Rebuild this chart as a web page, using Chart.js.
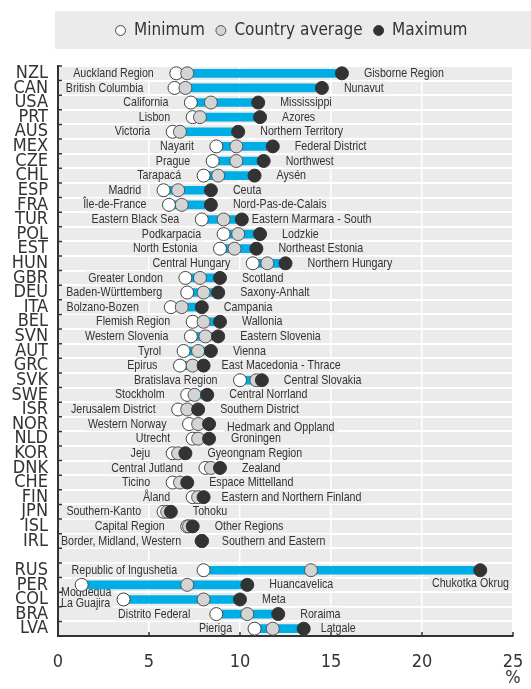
<!DOCTYPE html>
<html>
<head>
<meta charset="utf-8">
<script src="https://cdn.jsdelivr.net/npm/chart.js@4.4.1/dist/chart.umd.min.js"></script>
<style>
  html, body { margin: 0; padding: 0; background: #fff; }
  #wrap { width: 531px; height: 689px; position: relative; }
</style>
</head>
<body>
<div id="wrap"><canvas id="chart"></canvas></div>
<script>
// --- data -------------------------------------------------------------
const countries = ['NZL','CAN','USA','PRT','AUS','MEX','CZE','CHL','ESP','FRA',
  'TUR','POL','EST','HUN','GBR','DEU','ITA','BEL','SVN','AUT',
  'GRC','SVK','SWE','ISR','NOR','NLD','KOR','DNK','CHE','FIN',
  'JPN','ISL','IRL','','RUS','PER','COL','BRA','LVA'];

const minValues = [6.5, 6.4, 7.3, 7.4, 6.3, 8.7, 8.5, 8.0, 5.8, 6.1,
  7.9, 9.1, 8.9, 10.7, 7.0, 7.1, 6.2, 7.4, 7.3, 6.9,
  6.7, 10.0, 7.1, 6.6, 7.2, 7.4, 6.3, 8.1, 6.3, 7.4,
  5.8, 7.1, 7.9, null, 8.0, 1.3, 3.6, 8.7, 10.8];

const avgValues = [7.1, 7.0, 8.4, 7.8, 6.7, 9.8, 9.8, 8.8, 6.6, 6.8,
  9.1, 9.9, 9.7, 11.5, 7.8, 8.0, 6.8, 8.0, 8.1, 7.7,
  7.4, 10.9, 7.5, 7.1, 7.7, 7.7, 6.6, 8.4, 6.7, 7.7,
  6.0, 7.2, 7.9, null, 13.9, 7.1, 8.0, 10.4, 11.8];

const maxValues = [15.6, 14.5, 11.0, 11.1, 9.9, 11.8, 11.3, 10.8, 8.4, 8.4,
  10.1, 11.1, 10.9, 12.5, 8.9, 8.8, 7.9, 8.9, 8.8, 8.4,
  8.0, 11.2, 8.2, 7.7, 8.3, 8.3, 7.0, 8.9, 7.1, 8.0,
  6.2, 7.4, 7.9, null, 23.2, 10.4, 10.0, 12.1, 13.5];

const minRegions = ['Auckland Region','British Columbia','California','Lisbon','Victoria',
  'Nayarit','Prague','Tarapacá','Madrid','Île-de-France',
  'Eastern Black Sea','Podkarpacia','North Estonia','Central Hungary','Greater London',
  'Baden-Württemberg','Bolzano-Bozen','Flemish Region','Western Slovenia','Tyrol',
  'Epirus','Bratislava Region','Stockholm','Jerusalem District','Western Norway',
  'Utrecht','Jeju','Central Jutland','Ticino','Åland',
  'Southern-Kanto','Capital Region','Border, Midland, Western','',
  'Republic of Ingushetia','Moquegua','La Guajira','Distrito Federal','Pieriga'];

const maxRegions = ['Gisborne Region','Nunavut','Mississippi','Azores','Northern Territory',
  'Federal District','Northwest','Aysén','Ceuta','Nord-Pas-de-Calais',
  'Eastern Marmara - South','Lodzkie','Northeast Estonia','Northern Hungary','Scotland',
  'Saxony-Anhalt','Campania','Wallonia','Eastern Slovenia','Vienna',
  'East Macedonia - Thrace','Central Slovakia','Central Norrland','Southern District','Hedmark and Oppland',
  'Groningen','Gyeongnam Region','Zealand','Espace Mittelland','Eastern and Northern Finland',
  'Tohoku','Other Regions','Southern and Eastern','',
  'Chukotka Okrug','Huancavelica','Meta','Roraima','Latgale'];

const xTicks = [0, 5, 10, 15, 20, 25];
const xUnit = '%';

// label placement tweaks (pixels), where the original labels were pushed around
const labelTweaks = {
  CAN: { minGap: 31 }, DEU: { minGap: 25 }, ITA: { minGap: 32 }, BRA: { minGap: 26 },
  TUR: { maxGap: 10 }, GRC: { maxGap: 18 }, NOR: { maxGap: 18, maxDy: 3 },
  FIN: { maxGap: 18 }, IRL: { maxGap: 20 }, LVA: { maxGap: 17 },
  RUS: { minGap: 26.5, maxRight: true, maxDy: 13.6 },
  PER: { minLeft: true, minDy: 7.5 }, COL: { minLeft: true, minDy: 3.5 }
};

// --- style ------------------------------------------------------------
const FONT = '"DejaVu Sans Condensed", "DejaVu Sans", sans-serif';
const LABEL_FONT = '13px "Liberation Sans", Arial, sans-serif';
const NARROW = 0.82;   // squeeze Liberation Sans to an Arial-Narrow look
const INK = '#333333';
const PANEL = '#ebebeb';

const rangeData = countries.map((c, i) => minValues[i] == null ? null : [minValues[i], maxValues[i]]);

function drawLabel(ctx, text, x, y, w) {
  ctx.fillStyle = PANEL;
  ctx.fillRect(x - 3, y - 6.5, w + 6, 13);
  ctx.fillStyle = INK;
  ctx.save();
  ctx.translate(x, y);
  ctx.scale(NARROW, 1);
  ctx.fillText(text, 0, 0);
  ctx.restore();
}

const panelPlugin = {
  id: 'panelPlugin',
  beforeLayout(chart) {
    // extra gap between legend band and plot
    const lg = chart.legend;
    if (lg && !lg._gapPatched) {
      const fit = lg.fit;
      lg.fit = function () { fit.call(this); this.height += 17; };
      lg._gapPatched = true;
    }
  },
  afterLayout(chart) {
    const lg = chart.legend;
    lg.left = 55;
    lg.right = 528;
    lg.width = lg.right - lg.left;
  },
  beforeDraw(chart) {
    const { ctx, chartArea: a, legend } = chart;
    ctx.save();
    ctx.fillStyle = PANEL;
    ctx.fillRect(a.left, a.top, a.right - a.left, a.bottom - a.top);
    ctx.fillRect(55, legend.top, chart.width - 55, legend.height - 17);
    ctx.restore();
  }
};

const labelPlugin = {
  id: 'labelPlugin',
  beforeDatasetsDraw(chart) {
    const { ctx, chartArea: a } = chart;
    const minMeta = chart.getDatasetMeta(1);
    const maxMeta = chart.getDatasetMeta(3);
    ctx.save();
    ctx.beginPath();
    ctx.rect(a.left + 1.5, a.top, a.right - a.left - 1.5, a.bottom - a.top - 1);
    ctx.clip();
    ctx.font = LABEL_FONT;
    ctx.textBaseline = 'middle';
    ctx.textAlign = 'left';
    countries.forEach((code, i) => {
      if (minValues[i] == null) return;
      const t = labelTweaks[code] || {};
      const pMin = minMeta.data[i];
      const pMax = maxMeta.data[i];

      let w = ctx.measureText(minRegions[i]).width * NARROW;
      let x;
      if (t.minLeft) x = a.left + 3;
      else {
        x = pMin.x - (t.minGap || 22.5) - w;
        if (x < a.left + 3) x = a.left + 3;
      }
      drawLabel(ctx, minRegions[i], x, pMin.y + (t.minDy || 0), w);

      w = ctx.measureText(maxRegions[i]).width * NARROW;
      if (t.maxRight) x = a.right - 4 - w;
      else x = pMax.x + (t.maxGap || 22);
      drawLabel(ctx, maxRegions[i], x, pMax.y + (t.maxDy || 0), w);
    });
    ctx.restore();
  },
  afterDraw(chart) {
    const { ctx, chartArea: a, scales } = chart;
    const ys = scales.y, xs = scales.x;
    const step = ys.getPixelForValue(1) - ys.getPixelForValue(0);
    ctx.save();
    ctx.strokeStyle = INK;
    ctx.lineWidth = 1.5;
    ctx.beginPath();
    for (let i = 0; i < countries.length; i++) {
      const yy = ys.getPixelForValue(i) - step / 2;
      ctx.moveTo(a.left, yy);
      ctx.lineTo(a.left + 4, yy);
    }
    xs.ticks.forEach(t => {
      const xx = xs.getPixelForValue(t.value);
      ctx.moveTo(xx, a.bottom);
      ctx.lineTo(xx, a.bottom - 4);
    });
    ctx.stroke();
    ctx.restore();
  }
};

const pointDefaults = {
  type: 'line', indexAxis: 'y', showLine: false,
  pointRadius: 6.5, pointHoverRadius: 6.5, borderWidth: 1, pointStyle: 'circle'
};

new Chart(document.getElementById('chart'), {
  type: 'bar',
  data: {
    labels: countries,
    datasets: [
      { label: 'range', data: rangeData, backgroundColor: '#00aee6', barThickness: 8,
        borderWidth: 0, borderSkipped: false, order: 4 },
      Object.assign({ label: 'Minimum', data: minValues, backgroundColor: '#ffffff',
        borderColor: '#444444', order: 3 }, pointDefaults),
      Object.assign({ label: 'Country average', data: avgValues, backgroundColor: '#d4d4d4',
        borderColor: '#555555', order: 2 }, pointDefaults),
      Object.assign({ label: 'Maximum', data: maxValues, backgroundColor: INK,
        borderColor: INK, order: 1 }, pointDefaults)
    ]
  },
  options: {
    indexAxis: 'y',
    responsive: true,
    maintainAspectRatio: false,
    animation: false,
    layout: { padding: { top: 11, right: 18, bottom: 2, left: 0 } },
    plugins: {
      tooltip: { enabled: false },
      legend: {
        position: 'top',
        labels: {
          usePointStyle: true,
          boxWidth: 10,
          boxHeight: 7,
          padding: 11,
          color: INK,
          font: { family: FONT, size: 17 },
          filter: item => item.datasetIndex !== 0,
          sort: (a, b) => a.datasetIndex - b.datasetIndex
        }
      }
    },
    scales: {
      x: {
        type: 'linear',
        min: 0, max: 25,
        afterBuildTicks: s => { s.ticks = xTicks.map(v => ({ value: v })); },
        afterFit: s => { s.height = 51; s.paddingLeft = 0; s.paddingRight = 0; },
        grid: { color: '#ffffff', lineWidth: 1.5, drawTicks: false },
        border: { display: true, color: INK, width: 2 },
        ticks: {
          padding: 18, color: INK,
          font: { family: FONT, size: 18, lineHeight: 0.9 },
          // the unit sits under the last tick, as in the original
          callback: v => v === xTicks[xTicks.length - 1] ? [String(v), xUnit] : String(v)
        }
      },
      y: {
        type: 'category',
        grid: { color: '#ffffff', lineWidth: 2, drawTicks: false, offset: true },
        border: { display: true, color: INK, width: 2 },
        ticks: { autoSkip: false, padding: 10, color: INK,
          font: { family: FONT, size: 18, lineHeight: 1 } },
        afterFit: s => { s.width = 58; }
      }
    }
  },
  plugins: [panelPlugin, labelPlugin]
});
</script>
</body>
</html>
